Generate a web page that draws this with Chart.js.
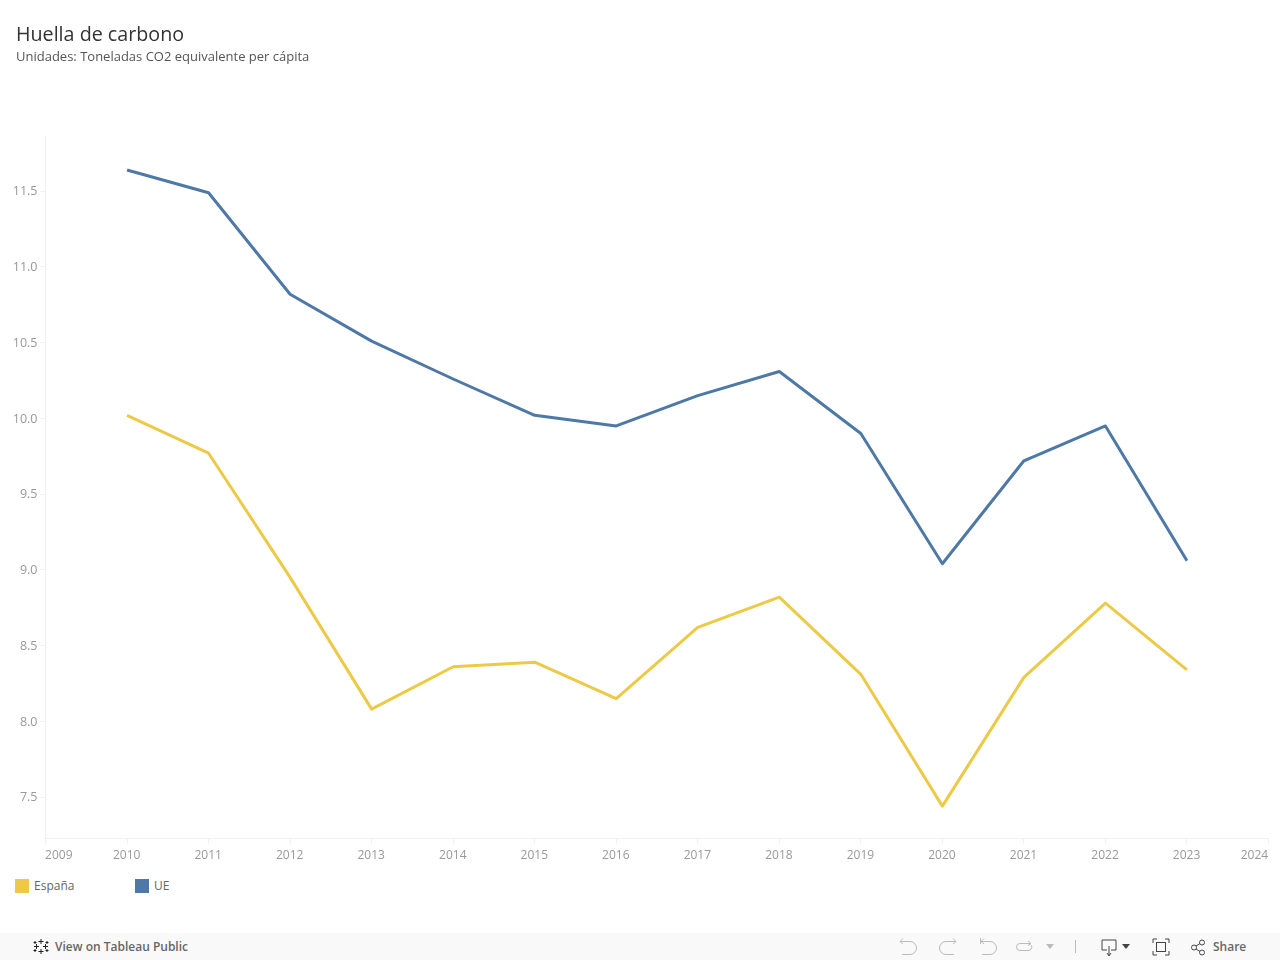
<!DOCTYPE html>
<html lang="es"><head><meta charset="utf-8"><title>Huella de carbono</title>
<script src="https://cdn.jsdelivr.net/npm/chart.js@4"></script>
<style>
html,body{margin:0;padding:0;background:#fff;width:1280px;height:960px;overflow:hidden;font-family:"Open Sans",sans-serif}
#wrap{position:absolute;left:0;top:0;width:1280px;height:875px}
.sw{position:absolute;top:879px;width:14px;height:14px}
.lg{position:absolute;top:878px;font-size:12px;line-height:16px;color:#666}
#bar{position:absolute;left:0;top:933px;width:1280px;height:27px;background:#f9f9f9}
#bar span{position:absolute;top:5px;font-size:12px;line-height:17px;font-weight:600;color:#666}
#bar svg{position:absolute;left:0;top:0}
</style></head><body>
<div id="wrap"><canvas id="c"></canvas></div>
<div class="sw" style="left:15px;background:#edc948"></div><div class="lg" style="left:34px">España</div>
<div class="sw" style="left:135px;background:#4e79a7"></div><div class="lg" style="left:154px">UE</div>
<div id="bar">
<svg width="1280" height="27" fill="none" stroke-width="1">
 <g stroke="#222"><path d="M41 6v5M38.500 8.500h5M41 16v5M38.500 18.500h5M34 13.500h5M36.500 11v5M43 13.500h5M45.500 11v5M35 8v3M33.500 9.500h3M47 8v3M45.500 9.500h3M35 16v3M33.500 17.500h3M47 16v3M45.500 17.500h3"/></g>
 <g stroke="#bbb">
  <path d="M900 8.500h10a6.500 6.500 0 0 1 0 13h-8"/><path d="M903 5.500l-3 3 3 2.500"/>
  <path d="M956 8.500h-10a6.500 6.500 0 0 0 0 13h8"/><path d="M953 5.500l3 3-3 2.500"/>
  <path d="M981 8.500h9a6.500 6.500 0 0 1 0 13h-8M980.500 5v6"/><path d="M984 5.500l-3 3 3 2.500"/>
  <path d="M1031 10.500h-11a3.500 3.500 0 0 0 0 7h8a3.500 3.500 0 0 0 3.500-5"/><path d="M1028 8l3 2.500-3 2"/>
  <path d="M1046 11h8l-4 5z" fill="#bbb" stroke="none"/>
  <path d="M1075.500 7v13"/>
 </g>
 <g stroke="#444">
  <path d="M1107 17h-5v-10h14v10h-5"/><path d="M1109 13v9M1107 20l2 3 2-3"/>
  <path d="M1122 11h8l-4 5z" fill="#444" stroke="none"/>
  <path d="M1153 10V6h4M1165 6h4v4M1169 18v4h-4M1157 22h-4v-4"/><rect x="1156.500" y="9.500" width="9" height="9"/>
  <circle cx="1194" cy="14.500" r="2.500"/><circle cx="1202" cy="9.500" r="2.500"/><circle cx="1202" cy="19.500" r="2.500"/><path d="M1196 13l4-2.500M1196 16l4 2.500"/>
 </g>
</svg>
<span style="left:55px">View on Tableau Public</span><span style="left:1213px">Share</span>
</div>
<script>
const years=[2010,2011,2012,2013,2014,2015,2016,2017,2018,2019,2020,2021,2022,2023];
const espana=[10.02,9.77,8.95,8.08,8.36,8.39,8.15,8.62,8.82,8.31,7.44,8.29,8.78,8.34];
const ue=[11.64,11.49,10.82,10.51,10.26,10.02,9.95,10.15,10.31,9.90,9.04,9.72,9.95,9.06];
const titleText="Huella de carbono";
const subtitleText="Unidades: Toneladas CO2 equivalente per cápita";
const FONT='"Open Sans",sans-serif';
const toPts=a=>a.map((v,i)=>({x:years[i],y:v}));
new Chart(document.getElementById('c'),{
 type:'line',
 data:{datasets:[
  {label:'UE',data:toPts(ue),borderColor:'#4e79a7',backgroundColor:'#4e79a7',borderWidth:3,pointRadius:0,tension:0,borderJoinStyle:'round'},
  {label:'España',data:toPts(espana),borderColor:'#edc948',backgroundColor:'#edc948',borderWidth:3,pointRadius:0,tension:0,borderJoinStyle:'round'}
 ]},
 plugins:[{id:'yLabelRoom',afterLayout(chart){chart.scales.y.left=0;}}],
 options:{
  responsive:true,maintainAspectRatio:false,animation:false,
  layout:{padding:{left:16,right:11.5,top:24,bottom:0}},
  plugins:{
   legend:{display:false},tooltip:{enabled:false},
   title:{display:true,text:titleText,align:'start',color:'#333',font:{family:FONT,size:19.7,weight:'normal'},padding:{top:0,bottom:2}},
   subtitle:{display:true,text:subtitleText,align:'start',color:'#555',font:{family:FONT,size:13,weight:'normal'},padding:{top:0,bottom:71}}
  },
  scales:{
   x:{type:'linear',min:2009,max:2024,
    afterFit(s){s.height=36.5},
    grid:{drawOnChartArea:false,drawTicks:true,tickLength:5,color:'#f0f0f0'},
    border:{color:'#f0f0f0'},
    ticks:{stepSize:1,align:'inner',maxRotation:0,autoSkip:false,includeBounds:false,color:'#999',padding:5,labelOffset:-0.4,font:{family:FONT,size:12},callback:v=>String(v)}},
   y:{type:'linear',min:7.226,max:11.863,
    afterFit(s){s.width=29.5},
    grid:{drawOnChartArea:false,drawTicks:true,tickLength:5,color:'#f0f0f0'},
    border:{color:'#f0f0f0'},
    ticks:{stepSize:0.5,includeBounds:false,color:'#999',padding:3,labelOffset:0.7,font:{family:FONT,size:12.5},callback:v=>v.toFixed(1)}}
  }
 }
});
</script></body></html>
